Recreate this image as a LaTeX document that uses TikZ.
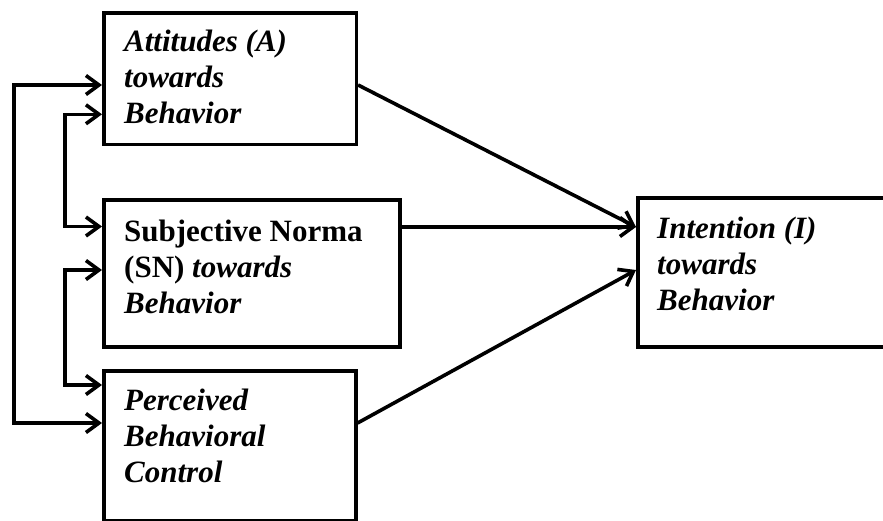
\documentclass[tikz,border=0pt]{standalone}
\usepackage{fontspec}
\setmainfont{Liberation Serif}
\usetikzlibrary{arrows.meta}
\begin{document}
\begin{tikzpicture}[x=1pt,y=-1pt,
  box/.style={draw,line width=3.6pt,rectangle,inner sep=0pt,anchor=north west},
  lbl/.style={anchor=base west,inner sep=0pt,align=left,font=\fontsize{31}{36}\selectfont\bfseries\itshape},
  conn/.style={line width=3.6pt},
  arr/.style={conn,-{Straight Barb[length=13pt,width=19pt]}},
  darr/.style={conn,{Straight Barb[length=13pt,width=19pt]}-{Straight Barb[length=13pt,width=19pt]}}]
\useasboundingbox (0,0) rectangle (883,520);
% boxes
\node[box,minimum width=252.5pt,minimum height=131.5pt] (A) at (102,11) {};
\node[box,minimum width=296pt,minimum height=147pt] (SN) at (102,198) {};
\node[box,minimum width=252pt,minimum height=149.5pt] (P) at (102,369) {};
\node[box,minimum width=270pt,minimum height=148.7pt] (I) at (636,196.3) {};
% texts (base = baseline of last line)
\node[lbl] (tA) at (124,123) {Attitudes (A)\\towards\\Behavior};
\node[lbl] (tSN) at (124,313) {\upshape Subjective Norma\\{\upshape(SN)} towards\\Behavior};
\node[lbl] (tP) at (124,482) {Perceived\\Behavioral\\Control};
\node[lbl] (tI) at (657,310) {Intention (I)\\towards\\Behavior};
% left feedback connectors
\coordinate (o1) at (14,85);
\coordinate (o2) at (14,423);
\coordinate (i1) at (64.7,114.3);
\coordinate (i2) at (64.7,226.5);
\coordinate (i3) at (64.7,270);
\coordinate (i4) at (64.7,385);
\draw[darr] (A.west |- o1) -- (o1) -- (o2) -- (P.west |- o2);
\draw[darr] (A.west |- i1) -- (i1) -- (i2) -- (SN.west |- i2);
\draw[darr] (SN.west |- i3) -- (i3) -- (i4) -- (P.west |- i4);
% right connectors
\coordinate (a1) at (354.5,85);
\coordinate (s1) at (398,227);
\coordinate (p1) at (356,423);
\coordinate (t1) at (636,227);
\coordinate (t2) at (636,270);
\draw[arr] (A.east |- a1) -- (I.west |- t1);
\draw[arr] (SN.east |- s1) -- (I.west |- t1);
\draw[arr] (P.east |- p1) -- (I.west |- t2);
\end{tikzpicture}
\end{document}
